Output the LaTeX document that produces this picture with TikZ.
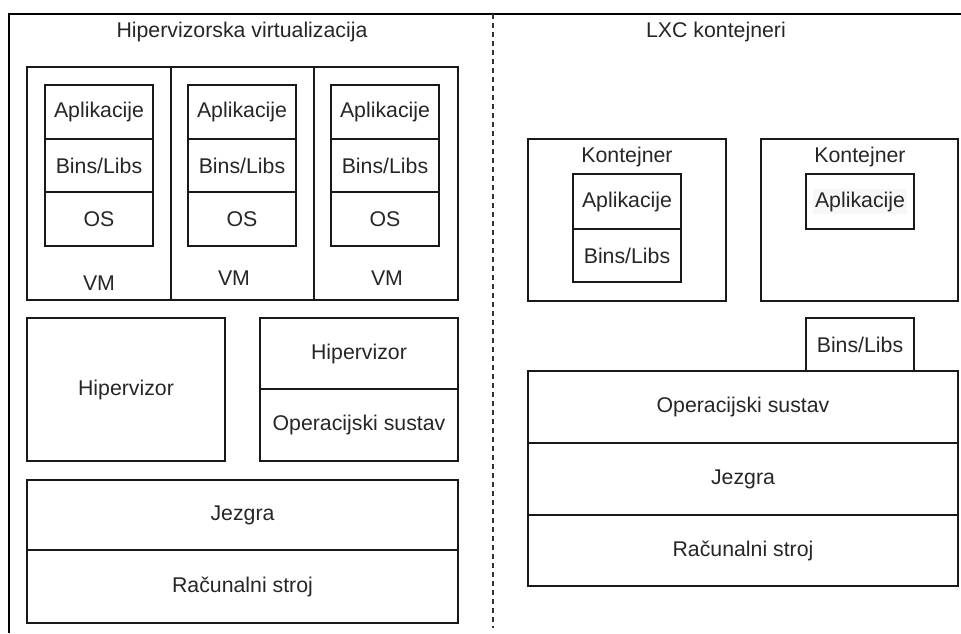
\documentclass[tikz,border=0pt]{standalone}
\usepackage{fontspec}
\setmainfont{Liberation Sans}
\begin{document}
\begin{tikzpicture}[x=1pt,y=-1pt,
  blk/.style={draw=black!90, line width=1.5pt, inner sep=0pt, font=\fontsize{21.3}{25}\selectfont, text=black!85},
  lbl/.style={inner sep=0pt, font=\fontsize{21.3}{25}\selectfont, text=black!85},
  frame/.style={draw=black, line width=1.8pt},
  sep/.style={draw=black!80, line width=1.5pt, dash pattern=on 4.5pt off 4.5pt}]
\useasboundingbox (0,0) rectangle (961,633);
% frame
\coordinate (fr1) at (961,14);
\coordinate (fr2) at (9,14);
\coordinate (fr3) at (9,633);
\draw[frame] (fr1) -- (fr2) -- (fr3);
\coordinate (s1) at (493,14);
\coordinate (s2) at (493,628);
\draw[sep] (s1) -- (s2);
% titles
\node[lbl] (t1) at (242,32) {Hipervizorska virtualizacija};
\node[lbl] (t2) at (716,32) {LXC kontejneri};
% VMs
\node[blk, minimum width=144pt, minimum height=233pt] (vm1) at (99,183.5) {};
\node[blk, minimum width=143pt, minimum height=233pt] (vm2) at (242.5,183.5) {};
\node[blk, minimum width=144pt, minimum height=233pt] (vm3) at (386,183.5) {};
\foreach \i/\x in {1/99,2/242,3/385}{
  \node[blk, minimum width=108pt, minimum height=54pt] (a\i) at (\x,112) {Aplikacije};
  \node[blk, minimum width=108pt, minimum height=53pt] (b\i) at (\x,165.5) {Bins/Libs};
  \node[blk, minimum width=108pt, minimum height=54pt] (o\i) at (\x,219) {OS};
}
\node[lbl] (vl1) at (99,283) {VM};
\node[lbl] (vl2) at (234,278) {VM};
\node[lbl] (vl3) at (387,278) {VM};
% hypervisors
\node[blk, minimum width=198pt, minimum height=143pt] (h1) at (126,389.5) {Hipervizor};
\node[blk, minimum width=198pt, minimum height=71pt] (h2) at (359,353.5) {Hipervizor};
\node[blk, minimum width=198pt, minimum height=72pt] (os1) at (359,425) {Operacijski sustav};
\node[blk, minimum width=431pt, minimum height=70pt] (j1) at (242.5,515) {Jezgra};
\node[blk, minimum width=431pt, minimum height=73pt] (r1) at (242.5,586.5) {Računalni stroj};
% containers
\node[blk, minimum width=198pt, minimum height=162pt] (c1) at (627,220) {};
\node[lbl] (k1) at (627,157) {Kontejner};
\node[blk, minimum width=108pt, minimum height=55pt] (ca1) at (627,201.5) {Aplikacije};
\node[blk, minimum width=108pt, minimum height=53pt] (cb1) at (627,255.5) {Bins/Libs};
\node[blk, minimum width=197pt, minimum height=162pt] (c2) at (859.5,220) {};
\node[lbl] (k2) at (860,157) {Kontejner};
\node[blk, minimum width=108pt, minimum height=55pt] (ca2) at (860,201.5) {};
\node[lbl, fill=black!3, inner xsep=2pt, inner ysep=3pt] (ca2t) at (860,201.5) {Aplikacije};
\node[blk, minimum width=108pt, minimum height=53pt] (cb2) at (860,344.5) {Bins/Libs};
\node[blk, minimum width=430pt, minimum height=72pt] (os2) at (743,407) {Operacijski sustav};
\node[blk, minimum width=430pt, minimum height=72pt] (j2) at (743,479) {Jezgra};
\node[blk, minimum width=430pt, minimum height=71pt] (r2) at (743,550.5) {Računalni stroj};
\end{tikzpicture}
\end{document}
